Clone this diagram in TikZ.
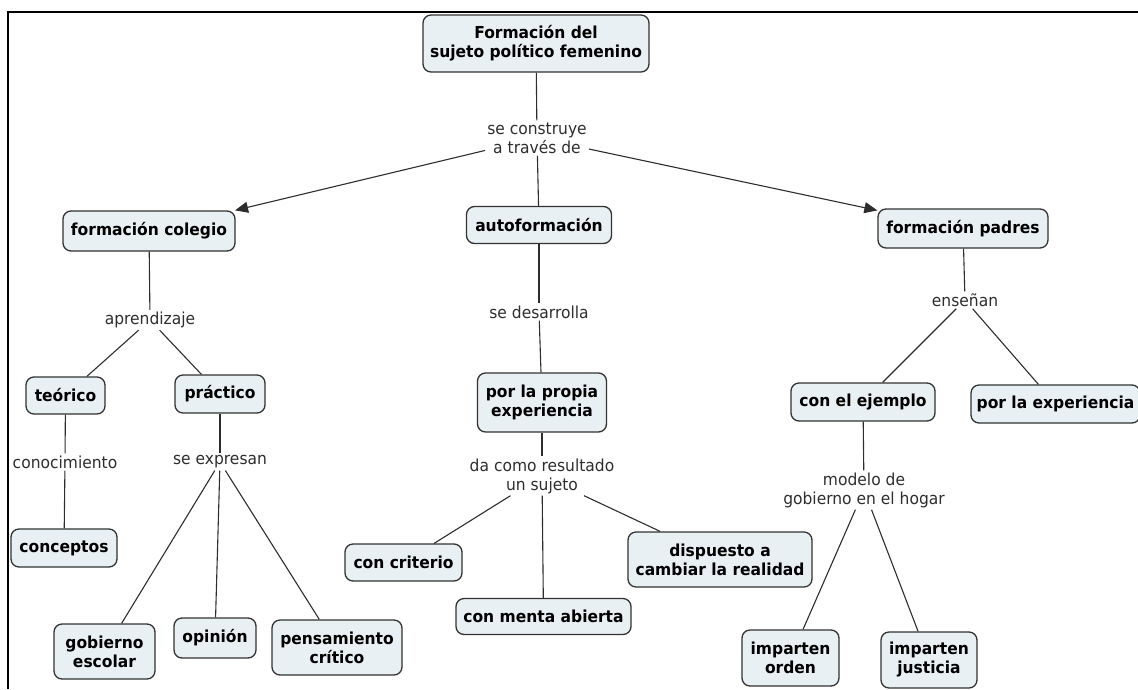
\documentclass[tikz,border=0pt]{standalone}
\usepackage{fontspec}
\setmainfont{DejaVu Sans}[FakeStretch=0.94]
\usetikzlibrary{arrows.meta}
\definecolor{boxfill}{RGB}{233,240,244}
\definecolor{boxline}{RGB}{50,50,50}
\definecolor{linkcol}{RGB}{45,45,45}
\begin{document}
\begin{tikzpicture}[x=1pt,y=-1pt,
  concept/.style={draw=boxline, line width=1.3pt, fill=boxfill, rounded corners=8pt, align=center,
    font=\fontsize{16.5}{19}\selectfont\bfseries, inner sep=0pt},
  linklabel/.style={align=center, font=\fontsize{16.5}{19}\selectfont, text=linkcol, inner sep=2pt},
  conn/.style={draw=linkcol, line width=1.1pt},
  arr/.style={conn, -{Triangle[length=13pt,width=11pt]}}]
\useasboundingbox (0,0) rectangle (1138,689);
% frame
\draw[line width=2pt] (8,689) -- (8,12) -- (1138,12);
% concepts and linking phrases
\node[concept, minimum width=226pt, minimum height=57pt] (root) at (536,43.5) {Formación del\\sujeto político femenino};
\node[linklabel] (l1) at (537,138) {se construye\\a través de};
\node[concept, minimum width=172pt, minimum height=40pt] (colegio) at (149,231) {formación colegio};
\node[concept, minimum width=145pt, minimum height=37pt] (auto) at (539,225) {autoformación};
\node[concept, minimum width=170pt, minimum height=39pt] (padres) at (963,228.5) {formación padres};
\node[linklabel] (l2) at (150,320) {aprendizaje};
\node[linklabel] (l3) at (539,312) {se desarrolla};
\node[linklabel] (l4) at (965,300) {enseñan};
\node[concept, minimum width=79pt, minimum height=37pt] (teorico) at (65.5,395.5) {teórico};
\node[concept, minimum width=90pt, minimum height=38pt] (practico) at (220,394) {práctico};
\node[concept, minimum width=129pt, minimum height=59pt] (propia) at (542,402.5) {por la propia\\experiencia};
\node[concept, minimum width=144pt, minimum height=38pt] (ejemplo) at (863,402) {con el ejemplo};
\node[concept, minimum width=169pt, minimum height=38pt] (porexp) at (1055.5,404) {por la experiencia};
\node[linklabel] (l5) at (65,462) {conocimiento};
\node[linklabel] (l6) at (220,462) {se expresan};
\node[linklabel] (l7) at (542,476) {da como resultado\\un sujeto};
\node[linklabel] (l8) at (864,490) {modelo de\\gobierno en el hogar};
\node[concept, minimum width=106pt, minimum height=38pt] (conceptos) at (64,548) {conceptos};
\node[concept, minimum width=117pt, minimum height=37pt] (criterio) at (403.5,562.5) {con criterio};
\node[concept, minimum width=184pt, minimum height=55pt] (dispuesto) at (720,559.5) {dispuesto a\\cambiar la realidad};
\node[concept, minimum width=175pt, minimum height=36pt] (menta) at (543.5,616.5) {con menta abierta};
\node[concept, minimum width=101pt, minimum height=55pt] (gobierno) at (104.5,651.5) {gobierno\\escolar};
\node[concept, minimum width=82pt, minimum height=40pt] (opinion) at (215,638) {opinión};
\node[concept, minimum width=130pt, minimum height=55pt] (pensamiento) at (337,647.5) {pensamiento\\crítico};
\node[concept, minimum width=97pt, minimum height=56pt] (orden) at (790.5,658) {imparten\\orden};
\node[concept, minimum width=96pt, minimum height=56pt] (justicia) at (929,660) {imparten\\justicia};
% connectors
\draw[conn] (root) -- (l1);
\draw[arr] (l1) -- (colegio);
\draw[conn] (l1) -- (auto);
\draw[arr] (l1) -- (padres);
\draw[conn] (colegio) -- (l2);
\draw[conn] (l2) -- (teorico);
\draw[conn] (l2) -- (practico);
\draw[conn] (teorico) -- (l5);
\draw[conn] (l5) -- (conceptos);
\draw[conn] (practico) -- (l6);
\draw[conn] (l6) -- (gobierno);
\draw[conn] (l6) -- (opinion);
\draw[conn] (l6) -- (pensamiento);
\draw[conn] (auto) -- (l3);
\draw[conn] (l3) -- (propia);
\draw[conn] (propia) -- (l7);
\draw[conn] (l7) -- (criterio);
\draw[conn] (l7) -- (menta);
\draw[conn] (l7) -- (dispuesto);
\draw[conn] (padres) -- (l4);
\draw[conn] (l4) -- (ejemplo);
\draw[conn] (l4) -- (porexp);
\draw[conn] (ejemplo) -- (l8);
\draw[conn] (l8) -- (orden);
\draw[conn] (l8) -- (justicia);
\end{tikzpicture}
\end{document}
